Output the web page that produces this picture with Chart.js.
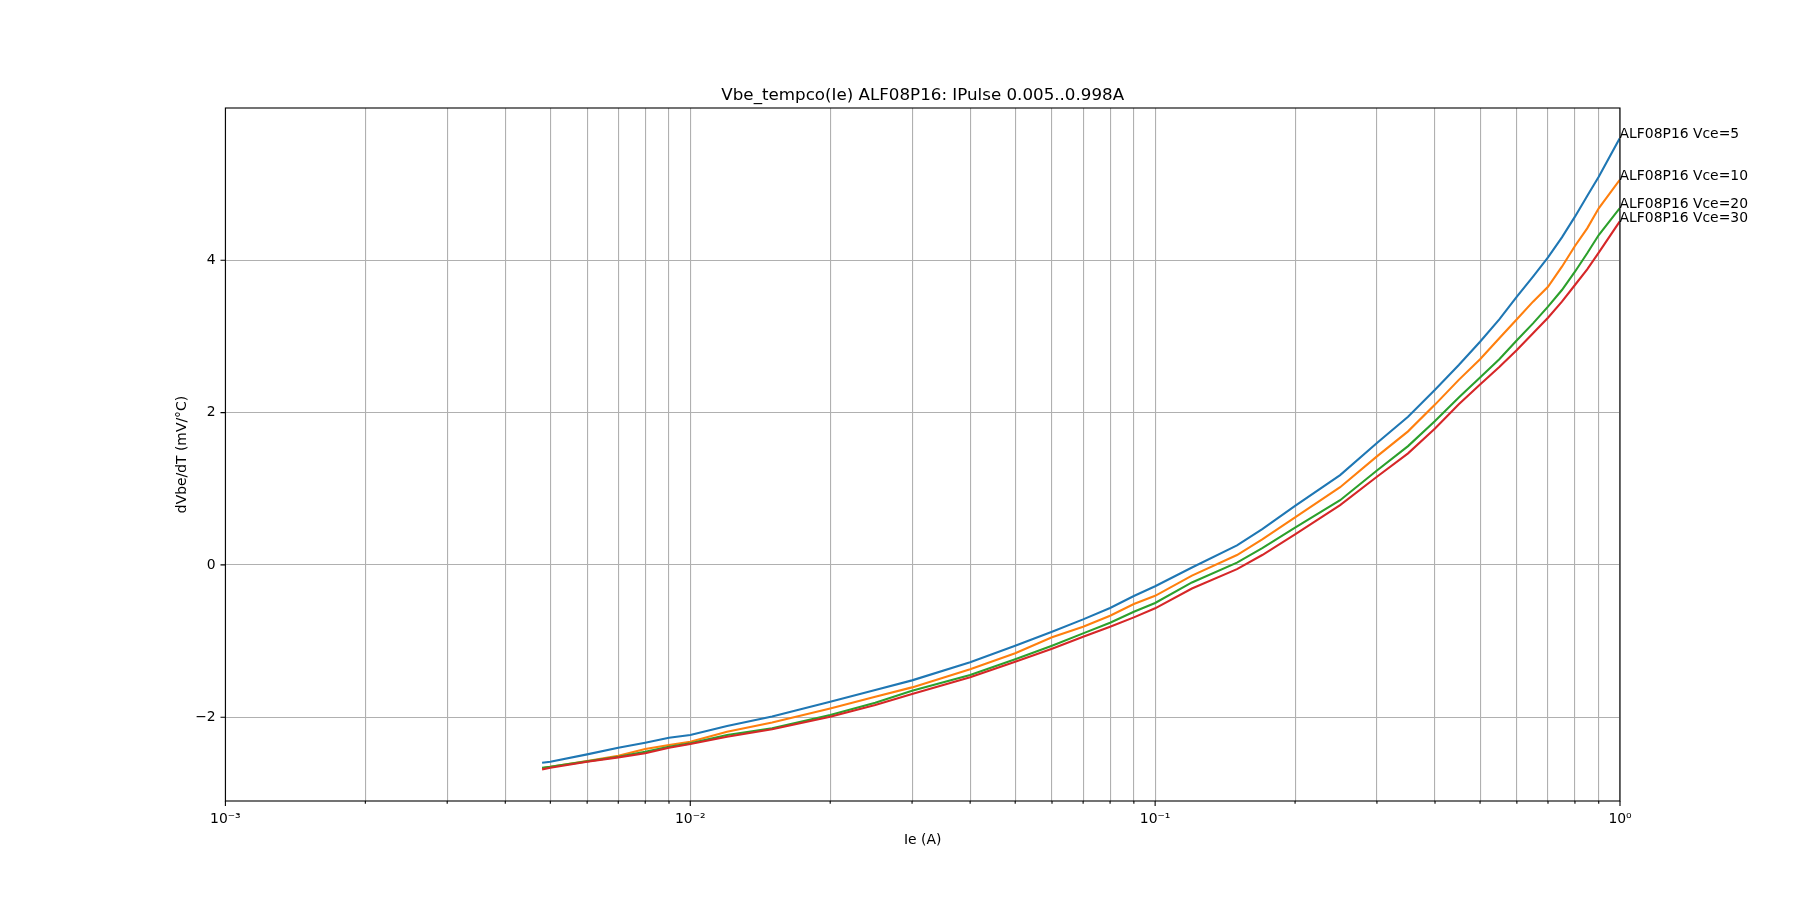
<!DOCTYPE html>
<html>
<head>
<meta charset="utf-8">
<script src="https://cdn.jsdelivr.net/npm/chart.js@4"></script>
<style>
html, body { margin: 0; padding: 0; background: #fff; }
</style>
</head>
<body>
<canvas id="tempcoChart" width="1800" height="900"></canvas>
<script>
// Ie (A) sample points
const ie = [0.0048, 0.005, 0.006, 0.007, 0.008, 0.009, 0.01, 0.012, 0.015, 0.02, 0.025, 0.03, 0.04, 0.05,
            0.06, 0.07, 0.08, 0.09, 0.1, 0.12, 0.15, 0.17, 0.2, 0.25, 0.3, 0.35, 0.4, 0.45, 0.5,
            0.55, 0.6, 0.65, 0.7, 0.75, 0.8, 0.85, 0.9, 0.998];

// dVbe/dT (mV/°C)
const vce5  = [-2.597, -2.584, -2.488, -2.40, -2.334, -2.269, -2.234, -2.116, -1.99, -1.796, -1.643, -1.516, -1.279, -1.061,
               -0.877, -0.715, -0.565, -0.408, -0.28, -0.034, 0.257, 0.47, 0.775, 1.18, 1.60, 1.946, 2.30, 2.625, 2.931,
               3.225, 3.522, 3.785, 4.039, 4.302, 4.573, 4.844, 5.098, 5.60];
const vce10 = [-2.671, -2.65, -2.575, -2.505, -2.418, -2.365, -2.321, -2.19, -2.07, -1.884, -1.73, -1.608, -1.371, -1.161,
               -0.951, -0.811, -0.667, -0.514, -0.406, -0.14, 0.13, 0.335, 0.625, 1.02, 1.425, 1.754, 2.105, 2.43, 2.70,
               2.976, 3.225, 3.457, 3.653, 3.916, 4.188, 4.42, 4.683, 5.054];
const vce20 = [-2.663, -2.65, -2.58, -2.518, -2.453, -2.387, -2.343, -2.234, -2.146, -1.971, -1.81, -1.652, -1.446, -1.24,
               -1.06, -0.899, -0.759, -0.614, -0.50, -0.23, 0.03, 0.22, 0.49, 0.85, 1.24, 1.56, 1.89, 2.20, 2.46,
               2.70, 2.95, 3.172, 3.391, 3.61, 3.85, 4.092, 4.332, 4.683];
const vce30 = [-2.685, -2.663, -2.584, -2.527, -2.474, -2.40, -2.352, -2.256, -2.159, -1.993, -1.84, -1.695, -1.476, -1.271,
               -1.10, -0.943, -0.811, -0.689, -0.57, -0.31, -0.055, 0.13, 0.40, 0.785, 1.158, 1.465, 1.79, 2.11, 2.37,
               2.60, 2.822, 3.041, 3.246, 3.457, 3.676, 3.882, 4.10, 4.507];

const seriesNames = ['ALF08P16 Vce=5', 'ALF08P16 Vce=10', 'ALF08P16 Vce=20', 'ALF08P16 Vce=30'];
const seriesColors = ['#1f77b4', '#ff7f0e', '#2ca02c', '#d62728'];
const chartTitle = 'Vbe_tempco(Ie) ALF08P16: IPulse 0.005..0.998A';

// ticks
const xMajorTicks = [0.001, 0.01, 0.1, 1];
const xMajorLabels = ['10\u207B\u00B3', '10\u207B\u00B2', '10\u207B\u00B9', '10\u2070'];
const xMinorTicks = [0.002, 0.003, 0.004, 0.005, 0.006, 0.007, 0.008, 0.009,
                     0.02, 0.03, 0.04, 0.05, 0.06, 0.07, 0.08, 0.09,
                     0.2, 0.3, 0.4, 0.5, 0.6, 0.7, 0.8, 0.9];
const yTicks = [-2, 0, 2, 4];

const FONT = '"DejaVu Sans", sans-serif';
Chart.defaults.font.family = FONT;
Chart.defaults.font.size = 13.9;
Chart.defaults.color = '#000';

function toPoints(ys) {
    return ie.map((v, i) => ({x: v, y: ys[i]}));
}

// frame, tick marks, title and the end-of-line labels
const frameAndLabels = {
    id: 'frameAndLabels',
    afterDatasetsDraw(chart) {
        const {ctx, chartArea: a, scales: {x, y}} = chart;
        ctx.save();
        ctx.strokeStyle = '#000';
        ctx.lineWidth = 1.1;
        ctx.strokeRect(a.left, a.top, a.right - a.left, a.bottom - a.top);

        ctx.beginPath();
        x.ticks.forEach(t => {
            const px = x.getPixelForValue(t.value);
            const len = xMajorTicks.includes(t.value) ? 4.9 : 2.8;
            ctx.moveTo(px, a.bottom);
            ctx.lineTo(px, a.bottom + len);
        });
        y.ticks.forEach(t => {
            const py = y.getPixelForValue(t.value);
            ctx.moveTo(a.left, py);
            ctx.lineTo(a.left - 4.9, py);
        });
        ctx.stroke();

        ctx.fillStyle = '#000';
        ctx.textBaseline = 'alphabetic';
        ctx.font = '16.7px ' + FONT;
        ctx.textAlign = 'center';
        ctx.fillText(chartTitle, (a.left + a.right) / 2, a.top - 8.3);

        ctx.font = '13.9px ' + FONT;
        ctx.textAlign = 'left';
        chart.data.datasets.forEach(ds => {
            const last = ds.data[ds.data.length - 1];
            ctx.fillText(ds.label, x.getPixelForValue(last.x), y.getPixelForValue(last.y));
        });
        ctx.restore();
    }
};

const ctx = document.getElementById('tempcoChart').getContext('2d');
const tempcoChart = new Chart(ctx, {
    type: 'scatter',
    data: {
        datasets: [vce5, vce10, vce20, vce30].map((ys, i) => ({
            label: seriesNames[i],
            data: toPoints(ys),
            showLine: true,
            borderColor: seriesColors[i],
            backgroundColor: seriesColors[i],
            borderWidth: 2.1,
            pointRadius: 0,
            tension: 0,
            order: 3 - i
        }))
    },
    options: {
        responsive: false,
        animation: false,
        devicePixelRatio: 1,
        layout: {padding: {left: 0, right: 180, top: 108, bottom: 0}},
        plugins: {
            legend: {display: false},
            tooltip: {enabled: false},
            title: {display: false}
        },
        scales: {
            x: {
                type: 'logarithmic',
                min: 0.001,
                max: 1,
                afterBuildTicks: scale => {
                    scale.ticks = xMajorTicks.concat(xMinorTicks).sort((a, b) => a - b).map(v => ({value: v}));
                },
                afterFit: scale => { scale.height = 99; },
                ticks: {
                    autoSkip: false,
                    maxRotation: 0,
                    padding: 9.7,
                    callback: v => {
                        const k = xMajorTicks.indexOf(v);
                        return k >= 0 ? xMajorLabels[k] : '';
                    }
                },
                grid: {color: '#b0b0b0', lineWidth: 1.1, drawTicks: false},
                border: {display: false},
                title: {display: true, text: 'Ie (A)', color: '#000', padding: {top: 0, bottom: 51.7}}
            },
            y: {
                min: -3.1,
                max: 6.0,
                afterBuildTicks: scale => {
                    scale.ticks = yTicks.map(v => ({value: v}));
                },
                afterFit: scale => { scale.width = 225.4; },
                ticks: {
                    padding: 9.7,
                    callback: v => (v < 0 ? '\u2212' + Math.abs(v) : String(v))
                },
                grid: {color: '#b0b0b0', lineWidth: 1.1, drawTicks: false},
                border: {display: false},
                title: {display: true, text: 'dVbe/dT (mV/°C)', color: '#000', padding: {top: 173.7, bottom: 0}}
            }
        }
    },
    plugins: [frameAndLabels]
});
</script>
</body>
</html>
